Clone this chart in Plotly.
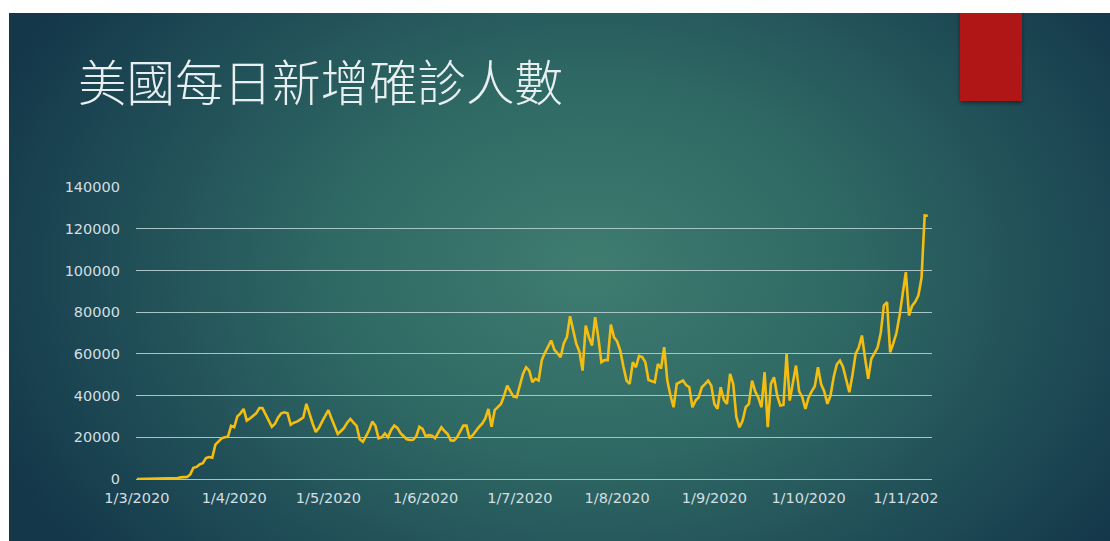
import base64
import pandas as pd
import plotly.graph_objects as go

title_text = "美國每日新增確診人數"

cases_mar = [5, 20, 25, 35, 75, 55, 165, 115, 80, 190, 270, 290, 350, 510, 780, 820,
             1000, 2200, 5400, 5800, 7000, 7600, 10000, 10500, 10200, 16500, 18000,
             19500, 20000, 20200, 25500]
cases_apr = [24800, 30000, 31500, 33600, 28000, 29000, 30500, 31500, 34000, 34000,
             31000, 28000, 25000, 26500, 29500, 31500, 32000, 31500, 26000, 27000,
             27500, 28500, 29500, 36000, 31000, 26500, 22500, 24500, 27500, 30500]
cases_may = [33000, 29000, 25000, 21600, 23000, 24500, 27000, 28800, 27000, 25500,
             19000, 17800, 20500, 23500, 27500, 25500, 19500, 20000, 21800, 20000,
             23500, 25600, 24500, 22000, 20500, 19000, 18700, 18800, 20500, 25000, 24000]
cases_jun = [20500, 21000, 20800, 19500, 22000, 24800, 23000, 21600, 18500, 18400,
             20000, 23000, 25600, 25600, 19500, 21000, 23200, 25000, 26500, 29000,
             33600, 25000, 33000, 34500, 36000, 40000, 44800, 42000, 39500, 39200]
cases_jul = [45000, 50400, 53600, 52000, 46400, 48000, 47200, 57000, 60500, 63500,
             66400, 62000, 60000, 58400, 65000, 68000, 78000, 71000, 64800, 61000,
             52000, 73600, 68000, 64000, 77600, 68000, 56000, 57000, 57000, 74000, 68000]
cases_aug = [66000, 61600, 54000, 47200, 45600, 56000, 53600, 59000, 58500, 56000,
             47500, 47000, 46400, 55200, 53000, 63200, 47200, 40000, 34400, 45600,
             46500, 47200, 45000, 44000, 34400, 37600, 39200, 44000, 45500, 47200, 44800]
cases_sep = [36000, 33600, 44000, 38000, 36000, 50400, 45600, 29600, 24800, 28000,
             34500, 36000, 47200, 42000, 39000, 34400, 51200, 24800, 45600, 48800,
             40000, 35200, 35500, 60000, 37600, 46000, 54400, 42000, 39200, 33600]
cases_oct = [39000, 42000, 44500, 53600, 45500, 42000, 36000, 40000, 48800, 55000,
             56800, 53600, 48000, 41600, 50000, 60000, 63000, 68800, 58000, 48000,
             57600, 60000, 63000, 70000, 83200, 84800, 60800, 65000, 70000, 78400, 88000]
cases_nov = [99200, 78400, 83000, 85000, 88000, 96500, 126400, 126200]

cases = cases_mar + cases_apr + cases_may + cases_jun + cases_jul + cases_aug + cases_sep + cases_oct + cases_nov
dates = pd.date_range("2020-03-01", periods=len(cases), freq="D")

tick_dates = ["2020-03-01", "2020-04-01", "2020-05-01", "2020-06-01", "2020-07-01",
              "2020-08-01", "2020-09-01", "2020-10-01", "2020-11-01"]
tick_labels = ["1/3/2020", "1/4/2020", "1/5/2020", "1/6/2020", "1/7/2020",
               "1/8/2020", "1/9/2020", "1/10/2020", "1/11/202"]
y_ticks = [0, 20000, 40000, 60000, 80000, 100000, 120000, 140000]

W, H = 1110, 541
L, R, T, B = 136, 932, 187, 479  # plot area in px
pw, ph = R - L, B - T

def px_x(x):
    return (x - L) / pw

def px_y(y):
    return (B - y) / ph

svg = """<svg xmlns="http://www.w3.org/2000/svg" width="1101" height="528" viewBox="0 0 1101 528" preserveAspectRatio="none">
<defs>
<radialGradient id="g" cx="580" cy="255" r="640" gradientUnits="userSpaceOnUse"
 gradientTransform="translate(580,255) scale(1,0.72) translate(-580,-255)">
<stop offset="0" stop-color="#3f7c70"/>
<stop offset="0.4" stop-color="#2f6964"/>
<stop offset="0.75" stop-color="#1f4c56"/>
<stop offset="1" stop-color="#14384a"/>
</radialGradient>
<filter id="s" x="-30%" y="-30%" width="160%" height="160%">
<feDropShadow dx="0" dy="2" stdDeviation="2" flood-color="#000" flood-opacity="0.45"/>
</filter>
</defs>
<rect x="0" y="0" width="1101" height="528" fill="url(#g)"/>
<rect x="951" y="-6" width="62" height="94" fill="#b11916" filter="url(#s)"/>
</svg>"""
src = "data:image/svg+xml;base64," + base64.b64encode(svg.encode("utf-8")).decode("ascii")

fig = go.Figure()
fig.add_trace(go.Scatter(
    x=dates, y=cases, mode="lines",
    line=dict(color="#f4bd12", width=2.6),
    hoverinfo="skip", showlegend=False,
))

fig.add_layout_image(dict(
    source=src, xref="paper", yref="paper",
    x=px_x(9), y=px_y(13), sizex=(W - 9) / pw, sizey=(H - 13) / ph,
    xanchor="left", yanchor="top", sizing="stretch", layer="below",
))

fig.add_annotation(
    text=title_text, xref="paper", yref="paper",
    x=px_x(76), y=px_y(80), xanchor="left", yanchor="middle",
    showarrow=False,
    font=dict(family="Noto Sans CJK TC", size=48.5, color="#e8eff0", weight=300),
)

axis_font = dict(family="DejaVu Sans, sans-serif", size=14.5, color="#d3dfe1")

fig.update_layout(
    width=W, height=H,
    margin=dict(l=L, r=W - R, t=T, b=H - B),
    paper_bgcolor="#ffffff",
    plot_bgcolor="rgba(0,0,0,0)",
    xaxis=dict(
        type="date",
        range=["2020-02-29 17:00", "2020-11-09 08:00"],
        tickvals=tick_dates, ticktext=tick_labels,
        showgrid=False, zeroline=False, showline=False,
        ticks="outside", ticklen=6, tickcolor="rgba(0,0,0,0)",
        tickfont=axis_font,
    ),
    yaxis=dict(
        range=[0, 140000], tickvals=y_ticks, tickformat="d",
        showgrid=True, gridcolor="#a7c4c6", gridwidth=1.4,
        zeroline=True, zerolinecolor="#a7c4c6", zerolinewidth=1.4,
        showline=False, ticks="", ticklabelstandoff=15,
        tickfont=axis_font,
    ),
)

fig.write_html("out.html")
